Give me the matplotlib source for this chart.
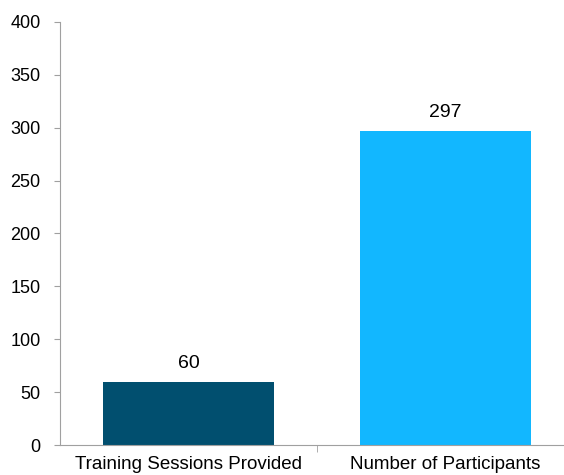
import matplotlib.pyplot as plt
import numpy as np

plt.rcParams['font.family'] = ['Liberation Sans', 'DejaVu Sans']

categories = ['Training Sessions Provided', 'Number of Participants']
values = [60, 297]
colors = ['#014f6f', '#12b7ff']

fig = plt.figure(figsize=(5.64, 4.75), dpi=100)
ax = fig.add_axes([60 / 564, 30 / 475, 514 / 564, 423 / 475])

x = np.arange(len(categories))
bars = ax.bar(x, values, width=0.665, color=colors)

for b, v in zip(bars, values):
    ax.text(b.get_x() + b.get_width() / 2, v + 9, str(v),
            ha='center', va='bottom', fontsize=14)

ax.set_xlim(-0.5, 1.5)
ax.set_ylim(0, 400)
ax.set_yticks(range(0, 401, 50))
ax.tick_params(axis='y', labelsize=13, length=4, color='#a0a0a0', pad=10)

# category labels, with a single divider tick between them
ax.set_xticks(x)
ax.set_xticklabels(categories, fontsize=13.5)
ax.tick_params(axis='x', length=0, pad=8)
ax.set_xticks([0.5], minor=True)
ax.tick_params(axis='x', which='minor', length=5, color='#a0a0a0')

for s in ['top', 'right']:
    ax.spines[s].set_visible(False)
for s in ['left', 'bottom']:
    ax.spines[s].set_color('#a0a0a0')

fig.savefig('out.png', dpi=100)
